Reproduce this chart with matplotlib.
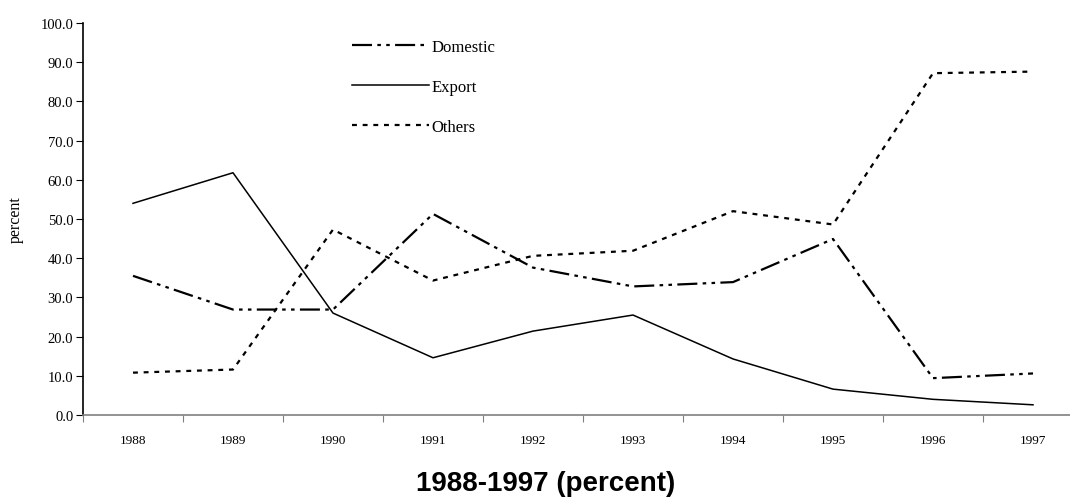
# Shares of output by destination, 1988-1997

import matplotlib
matplotlib.use("Agg")
import matplotlib.pyplot as plt

years = ["1988", "1989", "1990", "1991", "1992", "1993", "1994", "1995", "1996", "1997"]
domestic = [35.5, 26.9, 26.9, 51.3, 37.6, 32.8, 33.9, 44.9, 9.4, 10.6]
export = [54.0, 61.8, 26.0, 14.6, 21.4, 25.5, 14.3, 6.6, 4.0, 2.6]
others = [10.8, 11.6, 47.3, 34.3, 40.6, 41.9, 52.0, 48.6, 87.2, 87.6]
y_ticks = [0, 10, 20, 30, 40, 50, 60, 70, 80, 90, 100]

plt.rcParams["font.family"] = ["Liberation Serif", "DejaVu Serif"]

fig = plt.figure(figsize=(10.7, 5.02), dpi=100)
ax = fig.add_axes([83 / 1070, 1 - 416 / 502, 1000 / 1070, 392 / 502])

x = list(range(len(years)))
ax.plot(x, domestic, color="black", lw=1.6,
        linestyle=(0, (9, 2.4, 1.6, 2.4, 1.6, 2.4)), label="Domestic")
ax.plot(x, export, color="black", lw=1.1, label="Export")
ax.plot(x, others, color="black", lw=1.6,
        linestyle=(0, (2.2, 2.6)), label="Others")

ax.set_xlim(-0.5, len(years) - 0.5)
ax.set_ylim(0, 100)

# category boundaries get the ticks, labels sit in the middle
ax.set_xticks([i - 0.5 for i in range(len(years) + 1)])
ax.set_xticklabels([])
ax.set_xticks(x, minor=True)
ax.set_xticklabels(years, minor=True, fontsize=9.5)
ax.tick_params(axis="x", which="major", length=5, direction="out", color="#808080")
ax.tick_params(axis="x", which="minor", length=0, pad=14)

ax.set_yticks(y_ticks)
ax.set_yticklabels([f"{v:.1f}" for v in y_ticks], fontsize=10.5)
ax.tick_params(axis="y", length=5, direction="out", pad=2)

ax.spines["top"].set_visible(False)
ax.spines["right"].set_visible(False)
ax.spines["bottom"].set_color("#808080")
ax.spines["bottom"].set_linewidth(1.2)
ax.spines["left"].set_linewidth(1.2)

ax.set_ylabel("percent", fontsize=11.5, labelpad=12)

ax.legend(loc="upper left", bbox_to_anchor=(0.269, 0.96), frameon=False,
          fontsize=12, handlelength=4.6, handletextpad=0.15,
          labelspacing=1.45, borderpad=0, borderaxespad=0)

fig.text(0.51, 0.036, "1988-1997 (percent)", ha="center", va="center",
         fontsize=20, fontweight="bold", family="Liberation Sans")

fig.savefig("out.png", dpi=100)
